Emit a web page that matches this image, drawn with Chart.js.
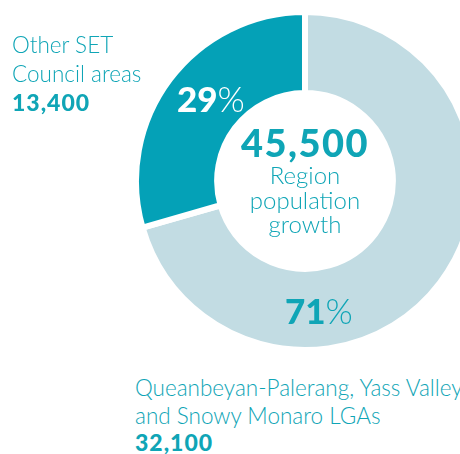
<!DOCTYPE html>
<html>
<head>
<meta charset="utf-8">
<script src="https://cdn.jsdelivr.net/npm/chart.js@4.4.1/dist/chart.umd.min.js"></script>
<style>
  html, body { margin: 0; padding: 0; background: #fff; }
  body { width: 460px; height: 454px; overflow: hidden; position: relative;
         font-family: "Lato", "Open Sans", sans-serif; color: #0fa5b6; }
  #wrap { position: absolute; left: 130px; top: 6px; width: 350px; height: 350px; }
  .lbl { position: absolute; font-size: 22.5px; line-height: 29px; font-weight: 300; white-space: nowrap; }
  .lbl b { font-weight: 900; font-size: 23px; letter-spacing: 1px; }
  #lblMain { line-height: 27.5px; }
  .pct { position: absolute; font-size: 35px; line-height: 36px; white-space: nowrap; }
  .pct b { font-weight: 900; }
  .pct span { font-weight: 300; }
  #center { position: absolute; left: 205px; width: 200px; text-align: center; top: 121px; }
  #center .total { font-size: 38px; font-weight: 900; line-height: 42px; letter-spacing: 1.5px; }
  #center .sub { font-size: 24px; line-height: 24.5px; font-weight: 300; }
</style>
</head>
<body>
<div id="wrap"><canvas id="c"></canvas></div>

<div class="lbl" id="lblOther" style="left:12px; top:30px;"></div>
<div class="lbl" id="lblMain" style="left:135px; top:374px;"></div>
<div class="pct" id="pctOther" style="left:177px; top:80px; color:#fff;"></div>
<div class="pct" id="pctMain" style="left:285px; top:292px;"></div>
<div id="center"><div class="total" id="total"></div><div class="sub">Region<br>population<br>growth</div></div>

<script>
// Population growth split across the region
const categories = ["Queanbeyan-Palerang, Yass Valley\nand Snowy Monaro LGAs", "Other SET\nCouncil areas"];
const growth = [32100, 13400];
const colours = ["#c2dce3", "#04a1b7"];

const total = growth.reduce((a, b) => a + b, 0);
// thousands separator as a comma
const fmt = n => String(n).replace(/\B(?=(\d{3})+(?!\d))/g, ",");
const pct = growth.map(v => Math.round(v / total * 100));

function labelHtml(i) {
  return categories[i].split("\n").join("<br>") + "<br><b>" + fmt(growth[i]) + "</b>";
}
document.getElementById("lblMain").innerHTML = labelHtml(0);
document.getElementById("lblOther").innerHTML = labelHtml(1);
document.getElementById("pctMain").innerHTML = "<b>" + pct[0] + "</b><span>%</span>";
document.getElementById("pctOther").innerHTML = "<b>" + pct[1] + "</b><span>%</span>";
document.getElementById("total").textContent = fmt(total);

new Chart(document.getElementById("c"), {
  type: "doughnut",
  data: {
    labels: categories,
    datasets: [{
      data: growth,
      backgroundColor: colours,
      borderColor: "#ffffff",
      borderWidth: 6,
      hoverOffset: 0
    }]
  },
  options: {
    responsive: true,
    maintainAspectRatio: false,
    animation: false,
    cutout: "52%",
    rotation: 0,
    layout: { padding: 3 },
    plugins: { legend: { display: false }, tooltip: { enabled: false } },
    events: []
  }
});
</script>
</body>
</html>
